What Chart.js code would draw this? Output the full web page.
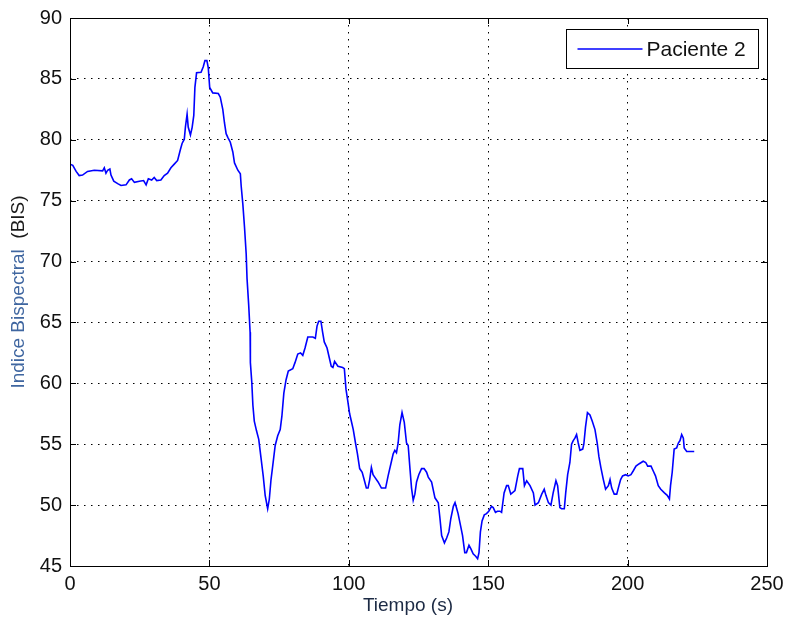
<!DOCTYPE html>
<html>
<head>
<meta charset="utf-8">
<script src="https://cdn.jsdelivr.net/npm/chart.js@4/dist/chart.umd.min.js"></script>
<style>
  html, body { margin: 0; padding: 0; background: #fff; }
  #wrap { width: 785px; height: 622px; }
</style>
</head>
<body>
<div id="wrap"><canvas id="chart" width="785" height="622"></canvas></div>
<script>
// time (s) and BIS values
const tiempo = [
  0, 1, 2.2, 3.3, 4.5, 6.3, 8.7, 11.7, 12.3, 12.9, 13.5, 14.3, 14.7, 15.7, 17.1, 18.3, 20.1, 21.3, 22.1, 23.1,
  24.9, 26.4, 27.3, 28.1, 29.3, 30.2, 31.1, 32.6, 33.8, 35.0, 36.2, 37.4, 38.6, 39.6, 40.2, 41.0, 41.4, 42.0, 42.4, 43.2,
  43.8, 44.4, 44.8, 45.4, 47.0, 47.8, 48.4, 49.1, 49.6, 50.1, 51.2, 53.2,
  53.9, 54.8, 55.4, 56.0, 56.6, 57.5, 58.4, 59.0, 60.2, 61.1, 61.4, 62.0, 62.6, 63.2, 63.5, 64.1, 64.6, 64.7, 65.2, 65.6,
  66.1, 66.9, 67.7, 68.5, 69.3, 70.0, 70.9, 71.5, 72.1, 72.7, 73.6, 74.5, 75.4, 76.0, 76.7, 77.5, 78.3, 79.9, 80.7, 81.7,
  82.7, 83.5, 84.3, 85.3, 87.1, 88.0, 88.6, 89.2, 90.0, 90.6, 91.2, 92.2, 93.0, 93.7, 94.3, 94.9, 96.1, 97.8, 98.4,
  99.0, 99.6, 100.3, 101.0, 101.6, 102.4, 103.1, 103.9, 104.8, 105.5, 106.3, 106.9, 107.5, 108.1, 108.7, 109.3, 110.5, 111.7, 113.2, 114.1,
  115.1, 115.9, 116.5, 117.1, 117.7, 118.3, 119.1, 119.9, 120.7, 121.3, 121.9, 122.5, 123.1, 123.7, 124.3, 125.1, 126.1, 127.0, 127.9, 128.5,
  129.7, 130.9, 132.1, 132.7, 133.3, 134.3, 135.1, 135.9, 136.6, 137.5, 138.1, 138.6, 139.2, 140.1, 140.8, 141.6, 142.2, 143.1, 143.8, 144.6,
  145.5, 146.2, 146.7, 147.2, 147.8, 148.6, 149.4, 150.2, 151.2, 151.8, 152.6, 153.3, 154.2,
  154.8, 155.7, 156.6, 157.2, 158.1, 159.6, 160.6, 161.2, 162.4, 163.0, 163.8, 165.0, 166.2, 166.8, 168.0, 169.2, 170.1, 170.7, 171.6, 172.5,
  173.3, 174.3, 174.9, 175.7, 176.3, 177.3, 177.8, 178.5, 179.3, 179.9, 180.5, 181.1, 181.7, 182.3, 182.9, 183.9, 184.3, 184.9, 185.6, 186.5,
  187.3, 188.3, 189.1, 189.7, 190.4, 191.3, 192.1, 193.1, 193.7, 194.3, 195.2, 196.1, 196.9, 197.5, 198.2, 199.3, 200.2, 201.2, 202.0, 203.0,
  204.2, 205.6, 206.5, 207.2, 208.4, 209.2, 210.0, 211.0, 211.9, 213.2, 214.2, 215.0, 215.4, 216.0, 216.7, 217.6, 218.2, 218.8, 219.4, 220.0,
  220.3, 221.2, 223.9
];
const paciente2 = [
  78.0, 77.9, 77.4, 77.06, 77.1, 77.4, 77.5, 77.45, 77.7, 77.25, 77.5, 77.6, 77.1, 76.6, 76.4, 76.25, 76.3, 76.7, 76.8, 76.5,
  76.6, 76.65, 76.3, 76.8, 76.7, 76.9, 76.65, 76.7, 77.06, 77.25, 77.7, 78.0, 78.3, 79.2, 79.7, 80.05, 81.05, 82.1, 81.05, 80.4,
  81.0, 82.0, 84.3, 85.5, 85.55, 86.0, 86.5, 86.5, 85.9, 84.3, 83.85, 83.8,
  83.5, 82.5, 81.4, 80.5, 80.2, 79.8, 79.0, 78.1, 77.5, 77.2, 76.2, 74.7, 72.8, 70.6, 68.6, 66.4, 64.2, 61.7, 60.1, 58.2,
  56.9, 56.1, 55.4, 53.9, 52.4, 50.8, 49.7, 50.5, 52.1, 53.2, 54.9, 55.7, 56.2, 57.3, 59.2, 60.3, 61.0, 61.2, 61.7, 62.4,
  62.5, 62.3, 62.9, 63.8, 63.8, 63.7, 64.7, 65.1, 65.1, 64.2, 63.4, 62.9, 62.1, 61.4, 61.3, 61.8, 61.4, 61.3, 61.2,
  59.5, 58.6, 57.5, 56.8, 56.2, 55.1, 54.2, 53.0, 52.7, 52.1, 51.4, 51.4, 52.1, 53.1, 52.5, 52.3, 51.9, 51.4, 51.4, 52.4,
  53.4, 54.2, 54.5, 54.3, 55.1, 56.6, 57.6, 56.8, 55.1, 54.9, 53.1, 51.4, 50.4, 50.9, 51.9, 52.5, 53.0, 53.0, 52.7, 52.3,
  51.9, 50.6, 50.2, 48.9, 47.5, 46.9, 47.3, 47.8, 48.9, 49.9, 50.2, 49.8, 49.3, 48.3, 47.5, 46.1, 46.1, 46.7, 46.4, 46.0,
  45.8, 45.6, 46.1, 47.8, 48.7, 49.2, 49.3, 49.5, 49.9, 49.8, 49.4, 49.5, 49.5,
  49.4, 51.0, 51.6, 51.6, 50.9, 51.2, 52.4, 53.0, 53.0, 51.6, 52.0, 51.6, 51.0, 50.0, 50.2, 50.9, 51.3, 50.8, 50.2, 50.0,
  51.0, 52.0, 51.6, 49.8, 49.7, 49.7, 51.0, 52.5, 53.5, 55.0, 55.3, 55.5, 55.8, 55.1, 54.5, 54.6, 55.0, 56.4, 57.6, 57.4,
  56.9, 56.2, 55.1, 54.0, 53.1, 52.1, 51.3, 51.6, 52.1, 51.4, 50.9, 50.9, 51.6, 52.1, 52.4, 52.5, 52.4, 52.5, 52.8, 53.2,
  53.4, 53.6, 53.5, 53.2, 53.2, 52.8, 52.4, 51.6, 51.3, 51.0, 50.8, 50.5, 51.6, 52.7, 54.6, 54.7, 55.1, 55.3, 55.8, 55.5,
  54.7, 54.4, 54.4
];
const xTicks = [0, 50, 100, 150, 200, 250];
const yTicks = [45, 50, 55, 60, 65, 70, 75, 80, 85, 90];
const serieLabel = 'Paciente 2';
const yTitle = ['Indice Bispectral  ', '(BIS)'];

const fontFam = "'Liberation Sans', Arial, sans-serif";
const tickFont = { family: fontFam, size: 20 };

// box around the axes plus inward tick marks, MATLAB style
const boxPlugin = {
  id: 'box',
  afterDatasetsDraw(chart) {
    const { ctx, chartArea: a, scales } = chart;
    ctx.save();
    ctx.strokeStyle = '#000';
    ctx.lineWidth = 1;
    ctx.beginPath();
    xTicks.forEach(v => {
      const x = Math.round(scales.x.getPixelForValue(v)) + 0.5;
      ctx.moveTo(x, a.bottom); ctx.lineTo(x, a.bottom - 6);
      ctx.moveTo(x, a.top); ctx.lineTo(x, a.top + 6);
    });
    yTicks.forEach(v => {
      const y = Math.round(scales.y.getPixelForValue(v)) + 0.5;
      ctx.moveTo(a.left, y); ctx.lineTo(a.left + 6, y);
      ctx.moveTo(a.right, y); ctx.lineTo(a.right - 6, y);
    });
    ctx.stroke();
    ctx.strokeRect(Math.round(a.left) + 0.5, Math.round(a.top) + 0.5,
      Math.round(a.right - a.left), Math.round(a.bottom - a.top));
    ctx.restore();
  }
};

// legend box in the top right corner of the axes
const legendPlugin = {
  id: 'boxLegend',
  afterDatasetsDraw(chart) {
    const { ctx, chartArea: a } = chart;
    const w = 192, h = 39;
    const x0 = Math.round(a.right - 9 - w) + 0.5;
    const y0 = Math.round(a.top + 11) + 0.5;
    ctx.save();
    ctx.fillStyle = '#fff';
    ctx.fillRect(x0, y0, w, h);
    ctx.strokeStyle = '#000';
    ctx.lineWidth = 1;
    ctx.strokeRect(x0, y0, w, h);
    ctx.strokeStyle = '#0000ff';
    ctx.lineWidth = 1.5;
    ctx.beginPath();
    ctx.moveTo(x0 + 11, y0 + h / 2);
    ctx.lineTo(x0 + 76, y0 + h / 2);
    ctx.stroke();
    ctx.fillStyle = '#111';
    ctx.font = '21px ' + fontFam;
    ctx.textBaseline = 'middle';
    ctx.fillText(chart.data.datasets[0].label, x0 + 80, y0 + h / 2 + 1);
    ctx.restore();
  }
};

// y axis title, first part drawn lighter/blue like the original
const yTitlePlugin = {
  id: 'yTitle',
  afterDraw(chart) {
    const { ctx, chartArea: a } = chart;
    ctx.save();
    ctx.font = '19px ' + fontFam;
    ctx.textBaseline = 'middle';
    const w1 = ctx.measureText(yTitle[0]).width;
    const w2 = ctx.measureText(yTitle[1]).width;
    ctx.translate(19, (a.top + a.bottom) / 2);
    ctx.rotate(-Math.PI / 2);
    ctx.fillStyle = '#3f66a0';
    ctx.fillText(yTitle[0], -(w1 + w2) / 2, 0);
    ctx.fillStyle = '#1a1a1a';
    ctx.fillText(yTitle[1], -(w1 + w2) / 2 + w1, 0);
    ctx.restore();
  }
};

const gridOpts = {
  color: '#000',
  lineWidth: 1,
  drawTicks: false
};

new Chart(document.getElementById('chart'), {
  type: 'line',
  data: {
    datasets: [{
      label: serieLabel,
      data: tiempo.map((t, i) => ({ x: t, y: paciente2[i] })),
      borderColor: '#0000ff',
      borderWidth: 1.6,
      pointRadius: 0,
      tension: 0,
      fill: false
    }]
  },
  options: {
    responsive: false,
    animation: false,
    layout: { padding: { top: 18, right: 18, left: 0, bottom: 0 } },
    plugins: {
      legend: { display: false },
      tooltip: { enabled: false }
    },
    scales: {
      x: {
        type: 'linear',
        min: 0,
        max: 250,
        afterBuildTicks: s => { s.ticks = xTicks.map(v => ({ value: v })); },
        afterFit: s => { s.height = 56; s.paddingLeft = 0; s.paddingRight = 0; },
        ticks: { font: tickFont, color: '#111', padding: 6, maxRotation: 0 },
        grid: gridOpts,
        border: { display: false, dash: [1.5, 5.5] },
        title: {
          display: true,
          text: 'Tiempo (s)    ',
          color: '#1c2a44',
          font: { family: fontFam, size: 19 },
          padding: { top: 0, bottom: 5 }
        }
      },
      y: {
        min: 45,
        max: 90,
        afterBuildTicks: s => { s.ticks = yTicks.map(v => ({ value: v })); },
        afterFit: s => { s.width = 70; s.paddingTop = 0; s.paddingBottom = 0; },
        ticks: { font: tickFont, color: '#111', padding: 8 },
        grid: gridOpts,
        border: { display: false, dash: [1.5, 5.5] }
      }
    }
  },
  plugins: [boxPlugin, legendPlugin, yTitlePlugin]
});
</script>
</body>
</html>
